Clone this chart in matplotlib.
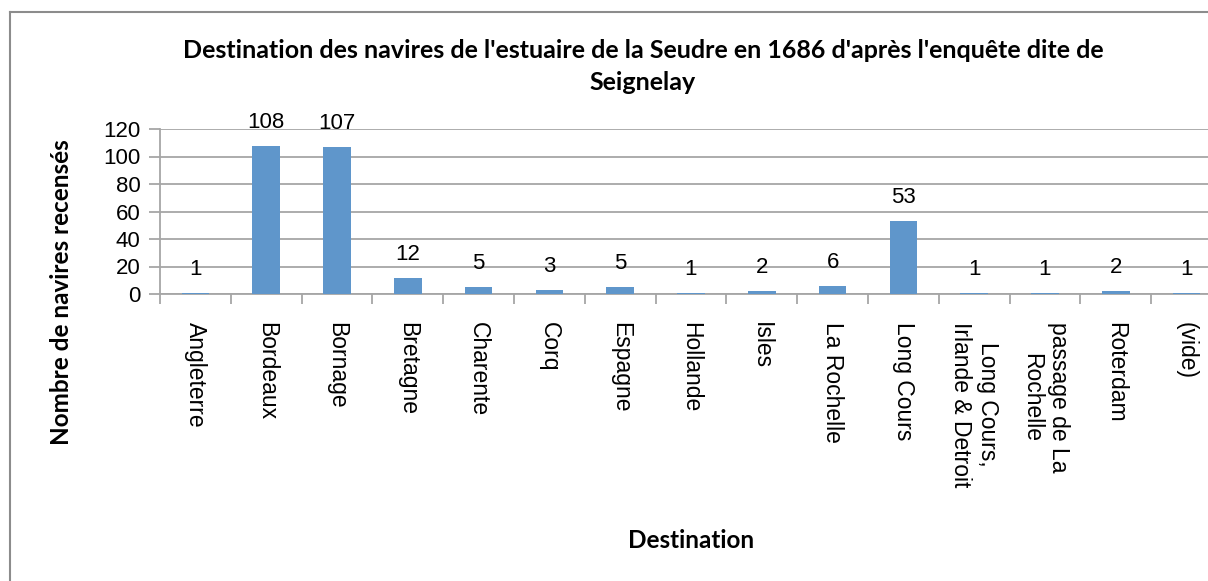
import matplotlib.pyplot as plt
import numpy as np

categories = ['Angleterre', 'Bordeaux', 'Bornage', 'Bretagne', 'Charente', 'Corq',
              'Espagne', 'Hollande', 'Isles', 'La Rochelle', 'Long Cours',
              'Long Cours,\nIrlande & Detroit', 'passage de La\nRochelle', 'Roterdam', '(vide)']
counts = [1, 108, 107, 12, 5, 3, 5, 1, 2, 6, 53, 1, 1, 2, 1]
yticks = [0, 20, 40, 60, 80, 100, 120]

W, H = 1208, 581
plt.rcParams['font.family'] = ['Lato', 'DejaVu Sans']

fig = plt.figure(figsize=(W / 100, H / 100), dpi=100)

# outer chart frame (cut off on the right and at the bottom)
fig.add_artist(plt.Line2D([9.5 / W, 9.5 / W], [0, 1 - 12 / H], color='#8c8c8c', lw=1.5))
fig.add_artist(plt.Line2D([9.5 / W, 1], [1 - 12 / H, 1 - 12 / H], color='#8c8c8c', lw=1.5))

# the plot area runs past the right edge of the picture:
# one category is ~70.8 px wide, the axes stop at the picture edge
left, top, bottom = 160, 129, 294
slot = 70.8
ax = fig.add_axes([left / W, 1 - bottom / H, (W - left) / W, (bottom - top) / H])

x = np.arange(len(categories))
ax.bar(x, counts, width=0.39, color='#5f96cb', zorder=3)

for xi, v in zip(x, counts):
    ax.annotate(str(v), xy=(xi, v), xytext=(0, 13), textcoords='offset pixels',
                ha='center', va='bottom', fontsize=16, color='black',
                family=['Liberation Sans', 'DejaVu Sans'])

ax.set_xlim(-0.5, -0.5 + (W - left) / slot)
ax.set_ylim(0, 120)
ax.set_yticks(yticks)
ax.set_yticklabels([str(t) for t in yticks], fontsize=16, family=['Liberation Sans', 'DejaVu Sans'])
ax.yaxis.grid(True, color='#a6a6a6', lw=1.3, zorder=0)
ax.tick_params(axis='y', length=8, color='#a6a6a6', width=1.3, pad=6)

# category boundaries as x ticks
ax.set_xticks(np.arange(len(categories)) - 0.5)
ax.set_xticklabels([])
ax.tick_params(axis='x', length=7, color='#a6a6a6', width=1.3)
for xi, lab in zip(x, categories):
    ax.annotate(lab, xy=(xi, 0), xycoords=('data', 'axes fraction'),
                xytext=(0, -28), textcoords='offset pixels',
                rotation=270, ha='center', va='top', fontsize=16.5,
                multialignment='center', family=['Liberation Sans', 'DejaVu Sans'])

ax.spines['top'].set_visible(False)
ax.spines['right'].set_visible(False)
for side in ['left', 'bottom']:
    ax.spines[side].set_color('#a6a6a6')
    ax.spines[side].set_linewidth(1.3)

fig.text(643 / W, 1 - 58 / H, "Destination des navires de l'estuaire de la Seudre en 1686 d'après l'enquête dite de",
         ha='center', va='baseline', fontsize=18, fontweight='bold')
fig.text(643 / W, 1 - 90 / H, "Seignelay",
         ha='center', va='baseline', fontsize=18, fontweight='bold')
fig.text(62 / W, 1 - 292 / H, 'Nombre de navires recensés', rotation=90, ha='center', va='center',
         fontsize=17.5, fontweight='bold')
fig.text(691 / W, 1 - 541 / H, 'Destination', ha='center', va='center', fontsize=17.5, fontweight='bold')

fig.savefig('out.png', dpi=100)
